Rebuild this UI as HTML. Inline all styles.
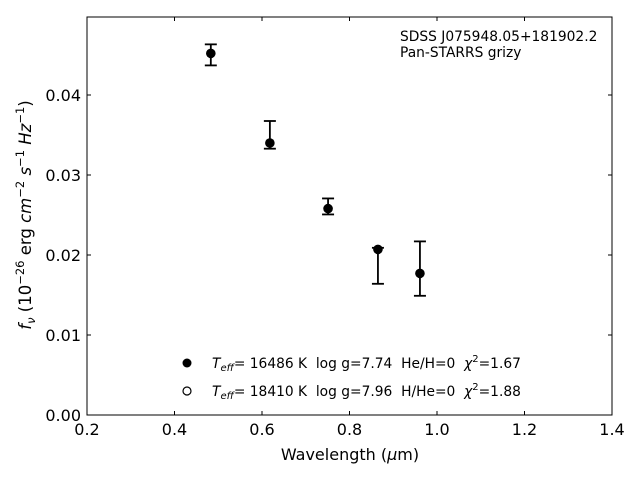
<!DOCTYPE html>
<html><head><meta charset="utf-8"><style>
body{margin:0;background:#fff}
svg{display:block;font-family:"DejaVu Sans","Liberation Sans",sans-serif}
text{white-space:pre}
</style></head><body>
<svg id="chart" width="640" height="480" viewBox="0 0 640 480">
<rect x="87" y="17" width="525" height="398" fill="none" stroke="#000" stroke-width="1"/>
<g id="ticks"></g>
<g id="marks"></g>
<text x="350" y="460" font-size="16" text-anchor="middle">Wavelength (<tspan font-style="italic">μ</tspan>m)</text>
<text transform="translate(31,215) rotate(-90)" font-size="16.5" text-anchor="middle"><tspan font-style="italic">f<tspan font-size="11.5" dy="4">ν</tspan></tspan><tspan dy="-4"> (10</tspan><tspan font-size="11.5" dy="-7">−26</tspan><tspan dy="7"> erg </tspan><tspan font-style="italic">cm</tspan><tspan font-size="11.5" dy="-7">−2</tspan><tspan dy="7"> </tspan><tspan font-style="italic">s</tspan><tspan font-size="11.5" dy="-7">−1</tspan><tspan dy="7"> </tspan><tspan font-style="italic">Hz</tspan><tspan font-size="11.5" dy="-7">−1</tspan><tspan dy="7">)</tspan></text>
<text x="400" y="41" font-size="13.8">SDSS J075948.05+181902.2</text>
<text x="400" y="57" font-size="13.8">Pan-STARRS grizy</text>
<g>
<circle cx="187" cy="363" r="4.5" fill="#000"/>
<text x="212" y="368" font-size="13.8"><tspan font-style="italic">T</tspan><tspan font-style="italic" font-size="10" dy="3">eff</tspan><tspan dy="-3">= 16486 K  log g=7.74  He/H=0  </tspan><tspan font-style="italic">χ</tspan><tspan font-size="10" dy="-6">2</tspan><tspan dy="6">=1.67</tspan></text>
<circle cx="187" cy="391" r="4" fill="#fff" stroke="#000" stroke-width="1.2"/>
<text x="212" y="396" font-size="13.8"><tspan font-style="italic">T</tspan><tspan font-style="italic" font-size="10" dy="3">eff</tspan><tspan dy="-3">= 18410 K  log g=7.96  H/He=0  </tspan><tspan font-style="italic">χ</tspan><tspan font-size="10" dy="-6">2</tspan><tspan dy="6">=1.88</tspan></text>
</g>
</svg>
<script>
const wavelengths=[0.483,0.618,0.751,0.865,0.961];
const fluxes=[0.0452,0.0340,0.0258,0.0207,0.0177];
const errUpper=[0.00113,0.00275,0.00127,0.0002,0.0040];
const errLower=[0.0015,0.00071,0.00073,0.0043,0.0028];
const xTicks=[0.2,0.4,0.6,0.8,1.0,1.2,1.4];
const yTicks=[0.00,0.01,0.02,0.03,0.04];
const NS='http://www.w3.org/2000/svg';
const X=v=>87+(v-0.2)/1.2*525;
const Y=v=>415-v*8000;
function mk(tag,attrs,parent){const e=document.createElementNS(NS,tag);for(const k in attrs)e.setAttribute(k,attrs[k]);parent.appendChild(e);return e;}
const tk=document.getElementById('ticks');
xTicks.forEach(t=>{
  const x=X(t);
  const a=mk('line',{x1:x,x2:x,y1:415,y2:411,stroke:'#000'},tk);
  
  
  const b=mk('line',{x1:x,x2:x,y1:17,y2:21,stroke:'#000'},tk);
  
  
  const l=mk('text',{x:x,y:435,'font-size':16,'text-anchor':'middle'},tk);
  l.textContent=t.toFixed(1);
  
  
});
yTicks.forEach(t=>{
  const y=Y(t);
  const a=mk('line',{x1:87,x2:91,y1:y,y2:y,stroke:'#000'},tk);
  
  
  const b=mk('line',{x1:612,x2:608,y1:y,y2:y,stroke:'#000'},tk);
  
  
  const l=mk('text',{x:81,y:y+6,'font-size':16,'text-anchor':'end'},tk);
  l.textContent=t.toFixed(2);
  
  
});
const mg=document.getElementById('marks');
wavelengths.forEach((w,i)=>{
  const x=X(w),y=Y(fluxes[i]),yt=Y(fluxes[i]+errUpper[i]),yb=Y(fluxes[i]-errLower[i]);
  const g=mk('g',{},mg);
  
  
  mk('line',{x1:x,x2:x,y1:yt,y2:yb,stroke:'#000','stroke-width':1.8},g);
  mk('line',{x1:x-6,x2:x+6,y1:yt,y2:yt,stroke:'#000','stroke-width':1.8},g);
  mk('line',{x1:x-6,x2:x+6,y1:yb,y2:yb,stroke:'#000','stroke-width':1.8},g);
  mk('circle',{cx:x,cy:y,r:4.8,fill:'#000'},g);
});
</script>
</body></html>
